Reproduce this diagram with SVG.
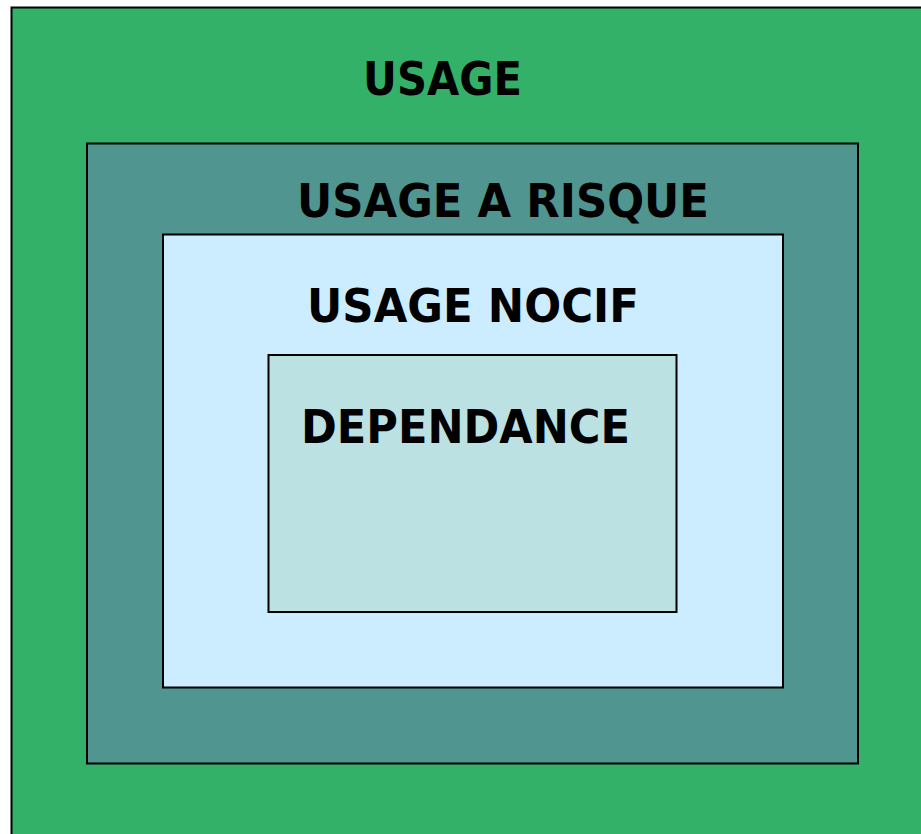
<svg xmlns="http://www.w3.org/2000/svg" width="921" height="834" viewBox="0 0 921 834">
<style>
.box{stroke:#000;stroke-width:2}
.lbl{font-family:"DejaVu Sans","Liberation Sans",sans-serif;font-weight:bold;font-size:47px;fill:#000}
</style>
<rect width="921" height="834" fill="#fff"/>
<g id="usage">
<rect class="box" x="11.5" y="7.5" width="920" height="840" fill="#34B168" stroke-width="1.5"/>
<text class="lbl" x="363" y="95" textLength="159" lengthAdjust="spacingAndGlyphs">USAGE</text>
</g>
<g id="usage-a-risque">
<rect class="box" x="87" y="143.5" width="771" height="620" fill="#50958F"/>
<text class="lbl" x="297" y="217" textLength="412" lengthAdjust="spacingAndGlyphs">USAGE A RISQUE</text>
</g>
<g id="usage-nocif">
<rect class="box" x="163" y="234.5" width="620" height="453" fill="#CCECFF"/>
<text class="lbl" x="307" y="322" textLength="332" lengthAdjust="spacingAndGlyphs">USAGE NOCIF</text>
</g>
<g id="dependance">
<rect class="box" x="268.5" y="355" width="408" height="257" fill="#BBE1E3"/>
<text class="lbl" x="301" y="443" textLength="329" lengthAdjust="spacingAndGlyphs">DEPENDANCE</text>
</g>
<g id="connectors"/>
</svg>
